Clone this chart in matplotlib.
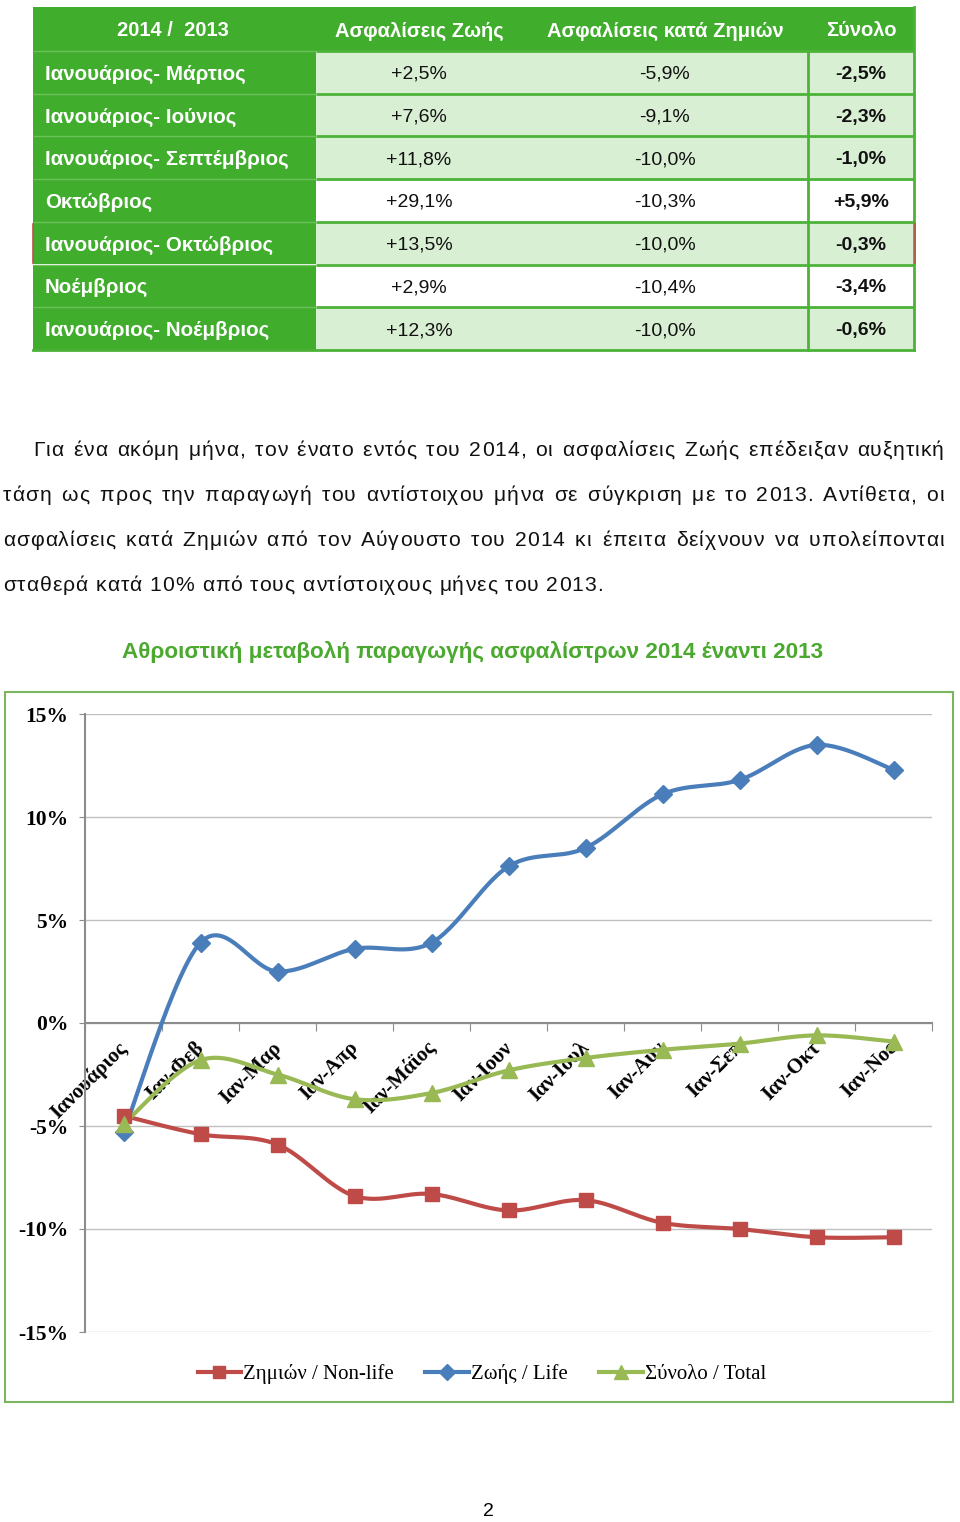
"""
Page from a monthly insurance production note: summary table, paragraph
and the cumulative change chart (2014 vs 2013).
"""

import numpy as np
import matplotlib.pyplot as plt
from matplotlib import font_manager
from matplotlib.ft2font import FT2Font
from matplotlib.lines import Line2D
from matplotlib.patches import Rectangle
from matplotlib.transforms import offset_copy

# ---- table data ----
table_header = ["2014 /  2013", "Ασφαλίσεις Ζωής", "Ασφαλίσεις κατά Ζημιών", "Σύνολο"]
periods = ["Ιανουάριος- Μάρτιος", "Ιανουάριος- Ιούνιος", "Ιανουάριος- Σεπτέμβριος",
           "Οκτώβριος", "Ιανουάριος- Οκτώβριος", "Νοέμβριος", "Ιανουάριος- Νοέμβριος"]
life_pct = ["+2,5%", "+7,6%", "+11,8%", "+29,1%", "+13,5%", "+2,9%", "+12,3%"]
nonlife_pct = ["-5,9%", "-9,1%", "-10,0%", "-10,3%", "-10,0%", "-10,4%", "-10,0%"]
total_pct = ["-2,5%", "-2,3%", "-1,0%", "+5,9%", "-0,3%", "-3,4%", "-0,6%"]
shaded_rows = [True, True, True, False, True, False, True]

paragraph = [
    "Για ένα ακόμη μήνα, τον ένατο εντός του 2014, οι ασφαλίσεις Ζωής επέδειξαν αυξητική",
    "τάση ως προς την παραγωγή του αντίστοιχου μήνα σε σύγκριση με το 2013. Αντίθετα, οι",
    "ασφαλίσεις κατά Ζημιών από τον Αύγουστο του 2014 κι έπειτα δείχνουν να υπολείπονται",
    "σταθερά κατά 10% από τους αντίστοιχους μήνες του 2013.",
]

chart_title = "Αθροιστική μεταβολή παραγωγής ασφαλίστρων 2014 έναντι 2013"

# ---- chart data (cumulative % change) ----
months = ["Ιανουάριος", "Ιαν-Φεβ", "Ιαν-Μαρ", "Ιαν-Απρ", "Ιαν-Μάϊος", "Ιαν-Ιουν",
          "Ιαν-Ιουλ", "Ιαν-Αυγ", "Ιαν-Σεπ", "Ιαν-Οκτ", "Ιαν-Νοε"]
nonlife = [-4.5, -5.4, -5.9, -8.4, -8.3, -9.1, -8.6, -9.7, -10.0, -10.4, -10.4]
life = [-5.3, 3.9, 2.5, 3.6, 3.9, 7.6, 8.5, 11.1, 11.8, 13.5, 12.3]
total = [-4.9, -1.8, -2.5, -3.7, -3.4, -2.3, -1.7, -1.3, -1.0, -0.6, -0.9]
series_labels = ["Ζημιών / Non-life", "Ζωής / Life", "Σύνολο / Total"]

DARK_GREEN = "#40ad2c"
LIGHT_GREEN = "#d9efd4"
LINE_GREEN = "#4cb238"
RED, BLUE, OLIVE = "#be4b48", "#4a7ebb", "#98b954"
SANS = ["Liberation Sans", "DejaVu Sans"]
NARROW = ["Liberation Sans Narrow", "Liberation Sans", "DejaVu Sans"]
SERIF = ["Liberation Serif", "DejaVu Serif"]


def smooth(xs, ys, n=30):
    """Excel-like smoothed line (cubic Bezier, Catmull-Rom control points)."""
    xs = np.asarray(xs, float)
    ys = np.asarray(ys, float)
    pts = np.column_stack([xs, ys])
    pad = np.vstack([pts[0], pts, pts[-1]])
    t = np.linspace(0, 1, n)[:, None]
    out = []
    for i in range(len(pts) - 1):
        p0, p1, p2, p3 = pad[i], pad[i + 1], pad[i + 2], pad[i + 3]
        c1 = p1 + (p2 - p0) / 6
        c2 = p2 - (p3 - p1) / 6
        seg = ((1 - t) ** 3 * p1 + 3 * (1 - t) ** 2 * t * c1
               + 3 * (1 - t) * t ** 2 * c2 + t ** 3 * p2)
        out.append(seg if i == 0 else seg[1:])
    out = np.vstack(out)
    return out[:, 0], out[:, 1]


W, H = 960, 1522
fig = plt.figure(figsize=(W / 100, H / 100), dpi=100)
page = fig.add_axes([0, 0, 1, 1])
page.set_xlim(0, W)
page.set_ylim(H, 0)
page.axis("off")

# ---- table ----
x0, x1, x2, x3 = 33, 316, 808, 914
head_top, head_bot = 7, 51
row_h = 42.7
col_centers = [419, 665, 861]

page.add_patch(Rectangle((x0, head_top), x3 - x0, head_bot - head_top, color=DARK_GREEN, lw=0))
for j, txt in enumerate(table_header):
    cx = 173 if j == 0 else col_centers[j - 1]
    page.text(cx, (head_top + head_bot) / 2 + 2, txt, ha="center", va="center",
              color="white", fontsize=14.5, fontweight="bold", family=SANS)

for i, label in enumerate(periods):
    top = head_bot + i * row_h
    cy = top + row_h / 2
    page.add_patch(Rectangle((x0, top), x1 - x0, row_h, color=DARK_GREEN, lw=0))
    page.add_patch(Rectangle((x1, top), x3 - x1, row_h,
                             color=LIGHT_GREEN if shaded_rows[i] else "white", lw=0))
    page.text(45, cy + 2, label, ha="left", va="center", color="white",
              fontsize=14.8, fontweight="bold", family=SANS)
    vals = [life_pct[i], nonlife_pct[i], total_pct[i]]
    for j, v in enumerate(vals):
        page.text(col_centers[j], cy + 2, v, ha="center", va="center", color="#111111",
                  fontsize=14, fontweight="bold" if j == 2 else "normal", family=SANS)
    # row separators
    page.plot([x1, x3], [top, top], color=LINE_GREEN, lw=2, solid_capstyle="butt")
    page.plot([x0, x1], [top, top], color="#6cc05a", lw=1, solid_capstyle="butt")

table_bot = head_bot + len(periods) * row_h
page.plot([x0, x3], [table_bot, table_bot], color=LINE_GREEN, lw=2)
page.plot([x2, x2], [head_bot, table_bot], color=LINE_GREEN, lw=2)
page.plot([x3, x3], [head_top, table_bot], color=LINE_GREEN, lw=2)
# thin red marks on the edges of the Jan-Oct row
r5 = head_bot + 4 * row_h
page.plot([x0, x0], [r5 + 2, r5 + row_h - 2], color="#c0504d", lw=1.2)
page.plot([x3 + 1, x3 + 1], [r5 + 2, r5 + row_h - 2], color="#c0504d", lw=1.2)

# ---- paragraph: justified, slightly letter-spaced like the source page ----
PARA_SIZE = 15.2
ft = FT2Font(font_manager.findfont(font_manager.FontProperties(family="Liberation Sans")))
ft.set_size(PARA_SIZE, 100)


def adv(ch):
    return ft.load_char(ord(ch)).linearHoriAdvance / 65536


last = paragraph[-1]
track = (600 - sum(adv(c) for c in last)) / (len(last) - 1)


def word_width(w):
    return sum(adv(c) for c in w) + track * (len(w) - 1)


baselines = [456, 501, 546, 591]
for k, line in enumerate(paragraph):
    start = 33 if k == 0 else 3
    words = line.split(" ")
    widths = [word_width(w) for w in words]
    if k < len(paragraph) - 1:
        gap = (944 - start - sum(widths)) / (len(words) - 1)
    else:
        gap = adv(" ") + 2 * track
    x = start
    for w, ww in zip(words, widths):
        cx = x
        for c in w:
            page.text(cx, baselines[k], c, ha="left", va="baseline", fontsize=PARA_SIZE,
                      family=SANS, color="#111111")
            cx += adv(c) + track
        x += ww + gap

page.text(473, 652, chart_title, ha="center", va="center", color="#4aa92e",
          fontsize=16.2, fontweight="bold", family=NARROW)

# chart border
page.add_patch(Rectangle((5, 692), 948, 710, fill=False, ec="#7cb55f", lw=1.5))

page.text(488, 1511, "2", ha="center", va="center", fontsize=14, family=SANS)

# ---- chart ----
ax = fig.add_axes([85 / W, 1 - 1332 / H, (932 - 85) / W, (1332 - 714) / H])
ax.patch.set_visible(False)
ax.set_xlim(-0.5, 10.5)
ax.set_ylim(-15, 15)

yt = np.arange(-15, 16, 5)
ax.set_yticks(yt)
ax.set_yticklabels([f"{v}%" for v in yt], fontsize=15.5, fontweight="bold", family=SERIF)
ax.yaxis.grid(True, color="#c0c0c0", lw=1)
ax.set_axisbelow(True)
ax.tick_params(axis="y", length=4, color="#8c8c8c", pad=8)

ax.set_xticks(np.arange(-0.5, 11, 1))
ax.set_xticklabels([])
ax.tick_params(axis="x", length=6, color="#8c8c8c", direction="out")

for side in ["top", "right"]:
    ax.spines[side].set_visible(False)
ax.spines["bottom"].set_position(("data", 0))
ax.spines["bottom"].set_color("#8c8c8c")
ax.spines["left"].set_color("#8c8c8c")
ax.spines["left"].set_linewidth(1.5)
ax.spines["bottom"].set_linewidth(1.5)

xs = np.arange(len(months))
lab_tr = offset_copy(ax.transData, fig=fig, x=8, y=-15, units="dots")
for i, m in enumerate(months):
    ax.text(i, 0, m, rotation=45, ha="right", va="top", transform=lab_tr,
            fontsize=15, fontweight="bold", family=SERIF, zorder=2)

specs = [(nonlife, RED, "s", 10), (life, BLUE, "D", 9), (total, OLIVE, "^", 11)]
handles = []
for (vals, col, mk, ms), lab in zip(specs, series_labels):
    sx, sy = smooth(xs, vals)
    ax.plot(sx, sy, color=col, lw=3, zorder=3, solid_capstyle="round")
    ax.plot(xs, vals, ls="none", marker=mk, ms=ms, color=col, zorder=4)
    handles.append(Line2D([], [], color=col, lw=3, marker=mk, ms=ms - 1))

fig.legend(handles, series_labels, loc="center", bbox_to_anchor=(482 / W, 1 - 1374 / H),
           ncol=3, frameon=False, handlelength=2.1, handletextpad=0.1,
           columnspacing=1.5, prop=dict(family=SERIF, size=15))

fig.savefig("out.png", dpi=100)
